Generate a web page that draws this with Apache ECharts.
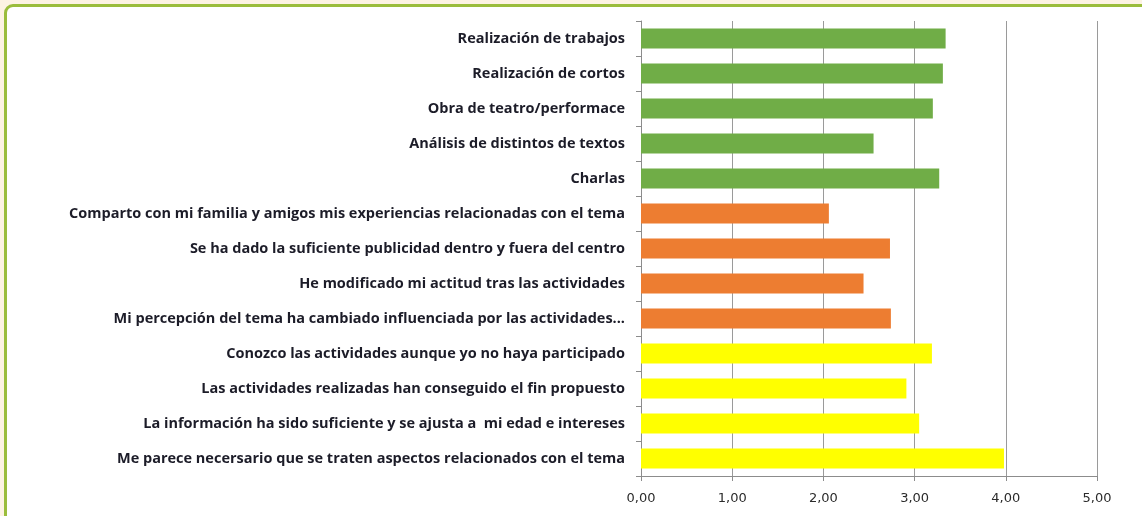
<!DOCTYPE html>
<html>
<head>
<meta charset="utf-8">
<script src="https://cdn.jsdelivr.net/npm/echarts@6/dist/echarts.min.js"></script>
<style>
    html, body { margin: 0; padding: 0; background: #fdf3e3; overflow: hidden; }
    .frame {
        position: absolute; left: 4px; top: 4px; width: 1160px; height: 540px;
        background: #fff; border: 3px solid #9bbd3c; border-radius: 9px; box-sizing: border-box;
    }
    #main { position: absolute; left: 0; top: 0; width: 1142px; height: 516px; }
</style>
</head>
<body>
<div class="frame"></div>
<div id="main"></div>
<script type="text/javascript">
    // categorias de arriba hacia abajo
    var categories = [
        'Realización de trabajos',
        'Realización de cortos',
        'Obra de teatro/performace',
        'Análisis de distintos de textos',
        'Charlas',
        'Comparto con mi familia y amigos mis experiencias relacionadas con el tema',
        'Se ha dado la suficiente publicidad dentro y fuera del centro',
        'He modificado mi actitud tras las actividades',
        'Mi percepción del tema ha cambiado influenciada por las actividades...',
        'Conozco las actividades aunque yo no haya participado',
        'Las actividades realizadas han conseguido el fin propuesto',
        'La información ha sido suficiente y se ajusta a  mi edad e intereses',
        'Me parece necersario que se traten aspectos relacionados con el tema'
    ];
    var actividades = [3.34, 3.31, 3.20, 2.55, 3.27];
    var impacto = [2.06, 2.73, 2.44, 2.74];
    var valoracion = [3.19, 2.91, 3.05, 3.98];
    var xTicks = ['0,00', '1,00', '2,00', '3,00', '4,00', '5,00'];

    var groups = [
        { values: actividades, color: '#70ad47' },
        { values: impacto, color: '#ed7d31' },
        { values: valoracion, color: '#ffff00' }
    ];
    var barData = [];
    groups.forEach(function (g) {
        g.values.forEach(function (v) {
            barData.push({ value: v, itemStyle: { color: g.color } });
        });
    });

    var myChart = echarts.init(document.getElementById('main'));
    myChart.setOption({
        animation: false,
        grid: { left: 641, right: 45, top: 21, bottom: 40, containLabel: false },
        xAxis: {
            type: 'value',
            min: 0, max: 5, interval: 1,
            axisLine: { show: true, lineStyle: { color: '#8c8c8c', width: 1 } },
            axisTick: { show: true, length: 5, lineStyle: { color: '#8c8c8c' } },
            splitLine: { show: true, lineStyle: { color: '#9a9a9a', width: 1 } },
            axisLabel: {
                margin: 16, color: '#2b2b2b', fontSize: 13, fontFamily: 'DejaVu Sans',
                formatter: function (v) { return xTicks[Math.round(v)]; }
            }
        },
        yAxis: {
            type: 'category',
            inverse: true,
            data: categories,
            axisLine: { show: true, lineStyle: { color: '#8c8c8c', width: 1 } },
            axisTick: { show: true, length: 5, lineStyle: { color: '#8c8c8c' } },
            axisLabel: {
                margin: 16, color: '#1c1c28', fontSize: 14.5, fontWeight: 'bold',
                fontFamily: 'Open Sans'
            }
        },
        series: [{
            type: 'bar',
            barWidth: 20,
            data: barData
        }]
    });
</script>
</body>
</html>
